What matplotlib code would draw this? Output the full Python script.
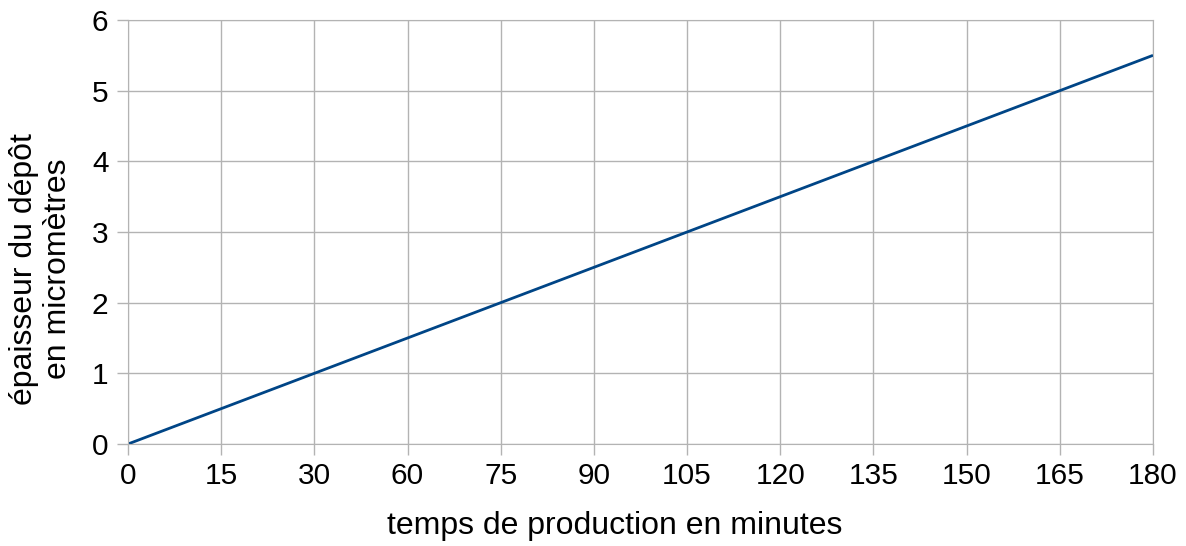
import matplotlib
matplotlib.use("Agg")
import matplotlib.pyplot as plt

plt.rcParams['font.family'] = ['Liberation Sans', 'DejaVu Sans']

# category axis: 45 is not among the categories
temps = ['0', '15', '30', '60', '75', '90', '105', '120', '135', '150', '165', '180']
epaisseur = [0, 0.5, 1, 1.5, 2, 2.5, 3, 3.5, 4, 4.5, 5, 5.5]
yticks = [0, 1, 2, 3, 4, 5, 6]

W, H = 1186, 546
fig = plt.figure(figsize=(W/100, H/100), dpi=100)
ax = fig.add_axes([128/W, 1 - 444/H, (1153-128)/W, (444-20)/H])

pos = list(range(len(temps)))
ax.plot(pos, epaisseur, color='#004586', lw=2, solid_capstyle='butt')

ax.set_xlim(0, len(temps) - 1)
ax.set_ylim(0, 6)
ax.set_xticks(pos)
ax.set_xticklabels(temps)
ax.set_yticks(yticks)
ax.grid(True, color='#b3b3b3', lw=1)
ax.set_axisbelow(True)
for s in ax.spines.values():
    s.set_color('#b3b3b3')
ax.tick_params(axis='both', colors='#b3b3b3', labelcolor='black', labelsize=21.5,
               length=8, width=1)
ax.tick_params(axis='x', pad=5)
ax.tick_params(axis='y', pad=6)

fig.text(615/W, 1 - 526/H, 'temps de production en minutes', fontsize=23,
         ha='center', va='center')
fig.text(41/W, 1 - 269/H, 'épaisseur du dépôt\nen micromètres', fontsize=23,
         rotation=90, ha='center', va='center', multialignment='center',
         linespacing=1.15)

fig.savefig('out.png', dpi=100)
